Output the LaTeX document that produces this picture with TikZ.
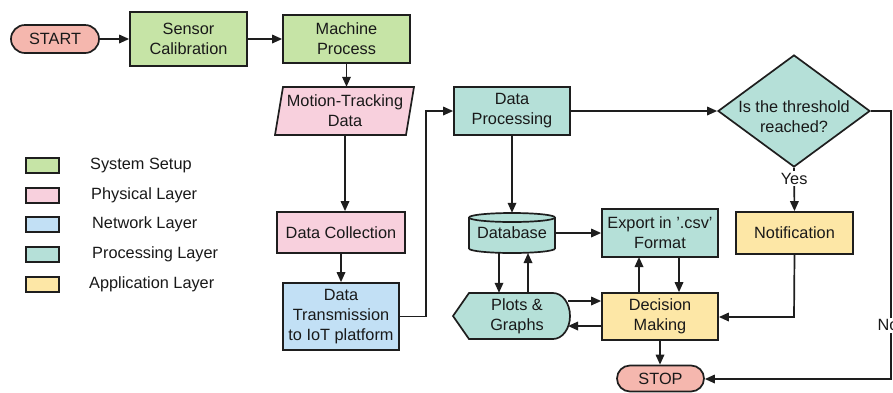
\documentclass[tikz,border=0pt]{standalone}
\usepackage{fontspec}
\setmainfont{Liberation Sans}
\usetikzlibrary{arrows.meta,shapes.geometric,calc}
\definecolor{cgreen}{RGB}{198,228,166}
\definecolor{cpink}{RGB}{248,208,221}
\definecolor{cblue}{RGB}{194,224,245}
\definecolor{cteal}{RGB}{181,224,216}
\definecolor{cyellow}{RGB}{253,231,166}
\definecolor{csalmon}{RGB}{245,183,174}
\definecolor{lc}{RGB}{30,30,30}
\definecolor{tc}{RGB}{25,25,25}
\begin{document}
\begin{tikzpicture}[x=1pt,y=-1pt,
  every node/.style={font=\fontsize{16.3}{20}\selectfont, text=tc, align=center, inner sep=0pt},
  box/.style={draw=lc, line width=1.7pt, rectangle},
  shapeline/.style={draw=lc, line width=1.7pt},
  arr/.style={draw=lc, line width=1.7pt, -{Triangle[length=10pt,width=8.5pt]}},
  lbl/.style={fill=white, inner sep=2pt},
  legbox/.style={draw=lc, line width=1.7pt, minimum width=33, minimum height=15},
  legtxt/.style={anchor=west}
]
\useasboundingbox (0,0) rectangle (893,392);
\fill[white] (0,0) rectangle (893,392);

% top row
\node[box, fill=csalmon, rounded corners=14pt, minimum width=88, minimum height=28] (start) at (55,39) {START};
\node[box, fill=cgreen, minimum width=117, minimum height=54] (sc) at (188.5,39) {Sensor\\Calibration};
\node[box, fill=cgreen, minimum width=127, minimum height=48] (mp) at (346.5,39) {Machine\\Process};

% motion tracking parallelogram
\filldraw[shapeline, fill=cpink] (275,135) -- (283,87) -- (414,87) -- (406,135) -- cycle;
\node[minimum width=131, minimum height=48] (mt) at (345,111) {Motion-Tracking\\Data};

\node[box, fill=cpink, minimum width=128, minimum height=41] (dc) at (341,232.5) {Data Collection};
\node[box, fill=cblue, minimum width=116, minimum height=67] (dt) at (341,316.5) {Data\\Transmission\\to IoT platform};

\node[box, fill=cteal, minimum width=116, minimum height=48] (dp) at (512,111) {Data\\Processing};

% diamond
\node[diamond, draw=lc, line width=1.7pt, fill=cteal, minimum width=152, minimum height=112, inner sep=0pt] (th) at (794,111) {};
\node (tht) at (794,117) {Is the threshold\\reached?};

% database cylinder
\filldraw[shapeline, fill=cteal] (469,217.5) -- (469,248.5)
  arc[start angle=180, end angle=360, x radius=43pt, y radius=4.5pt]
  -- (555,217.5)
  arc[start angle=0, end angle=180, x radius=43pt, y radius=4.5pt] -- cycle;
\draw[shapeline] (469,217.5) arc[start angle=180, end angle=360, x radius=43pt, y radius=4.5pt];
\node[minimum width=86, minimum height=40] (db) at (512,233) {Database};

\node[box, fill=cteal, minimum width=116, minimum height=48] (ex) at (660,233) {Export in '.csv'\\Format};
\node[box, fill=cyellow, minimum width=117, minimum height=42] (nt) at (794.5,233) {Notification};

% display shape
\filldraw[shapeline, fill=cteal] (453,316) -- (469,293) -- (553,293)
  arc[start angle=90, end angle=-90, x radius=17pt, y radius=23pt]
  -- (469,339) -- cycle;
\node[minimum width=106, minimum height=46] (pl) at (517,316) {Plots \&\\Graphs};

\node[box, fill=cyellow, minimum width=116, minimum height=47] (dm) at (660,316.5) {Decision\\Making};
\node[box, fill=csalmon, rounded corners=13pt, minimum width=87, minimum height=26] (stop) at (660.5,378.5) {STOP};

% legend
\node[legbox, fill=cgreen] (lg1) at (42.5,165.5) {};
\node[legbox, fill=cpink] (lg2) at (42.5,195.5) {};
\node[legbox, fill=cblue] (lg3) at (42.5,224.5) {};
\node[legbox, fill=cteal] (lg4) at (42.5,254.5) {};
\node[legbox, fill=cyellow] (lg5) at (42.5,284.5) {};
\node[legtxt] (lt1) at (90,165) {System Setup};
\node[legtxt] (lt2) at (91,195) {Physical Layer};
\node[legtxt] (lt3) at (92,224) {Network Layer};
\node[legtxt] (lt4) at (92,254) {Processing Layer};
\node[legtxt] (lt5) at (89,284) {Application Layer};

% connector helper points
\coordinate (c1) at (426,111);
\coordinate (c2) at (891,111);
\coordinate (c3) at (891,379);
\coordinate (c4) at (794,317);
\coordinate (d1) at (499,253);
\coordinate (d2) at (528,253);
\coordinate (e1) at (639,257);
\coordinate (e2) at (679,257);
\coordinate (p1) at (568,301);
\coordinate (p2) at (568,326);

\draw[arr] (start.east) -- (sc.west);
\draw[arr] (sc.east) -- (sc.east -| mp.west);
\draw[arr] (mp.south) -- (mp.south |- mt.north);
\draw[arr] (mt.south) -- (mt.south |- dc.north);
\draw[arr] (dc.south) -- (dt.north);
\draw[arr] (dt.east) -| (c1) -- (dp.west);
\draw[arr] (dp.east) -- (th.west);
\draw[arr] (dp.south) -- (db.north);
\draw[arr] (th.south) -- node[lbl, pos=0.25] (yes) {Yes} (nt.north);
\draw[arr] (th.east) -- (c2) -- node[lbl, pos=0.8, xshift=-3pt] (no) {No} (c3) -- (c3 -| stop.east);
\draw[arr] (db.east) -- (ex.west);
\draw[arr] (d1) -- (d1 |- pl.north);
\draw[arr] (d2 |- pl.north) -- (d2);
\draw[arr] (e1 |- dm.north) -- (e1);
\draw[arr] (e2) -- (e2 |- dm.north);
\draw[arr] (p1) -- (p1 -| dm.west);
\draw[arr] (p2 -| dm.west) -- (p2);
\draw[arr] (nt.south) -- (c4) -- (c4 -| dm.east);
\draw[arr] (dm.south) -- (dm.south |- stop.north);
\end{tikzpicture}
\end{document}
